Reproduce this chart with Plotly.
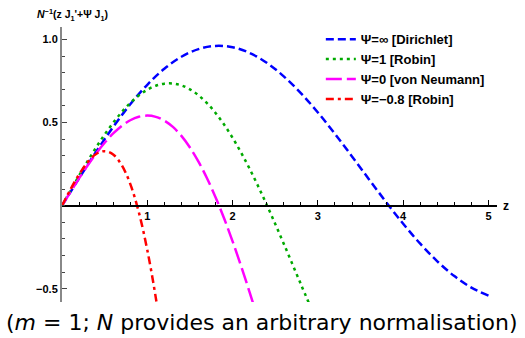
import plotly.graph_objects as go

# ---- data ----
z_blue = [0, 0.2, 0.4, 0.6, 0.8, 1.0, 1.2, 1.4, 1.6, 1.8, 2.0, 2.2, 2.4, 2.6, 2.8, 3.0,
          3.2, 3.4, 3.6, 3.8, 4.0, 4.2, 4.4, 4.6, 4.8, 5.0]
y_blue = [0, 0.1645, 0.3240, 0.4739, 0.6096, 0.7274, 0.8236, 0.8957, 0.9420, 0.9612,
          0.9532, 0.9190, 0.8598, 0.7782, 0.6772, 0.5605, 0.4319, 0.2962, 0.1579, 0.0212,
          -0.1091, -0.2291, -0.3352, -0.4241, -0.4934, -0.5415]

z_green = [0, 0.1, 0.2, 0.3, 0.4, 0.5, 0.6, 0.7, 0.8, 0.9, 1.0, 1.1, 1.2, 1.3, 1.4, 1.5,
           1.6, 1.7, 1.8, 1.9, 2.0, 2.1, 2.2, 2.3, 2.4, 2.5, 2.6, 2.7, 2.8, 2.9]
y_green = [0, 0.0909, 0.1805, 0.2673, 0.3502, 0.4278, 0.4988, 0.5623, 0.6172, 0.6625,
           0.6975, 0.7216, 0.7341, 0.7349, 0.7235, 0.6998, 0.6642, 0.6168, 0.5579, 0.4881,
           0.4082, 0.3189, 0.2214, 0.1164, 0.0055, -0.1103, -0.2294, -0.3505, -0.4722, -0.5930]

z_mag = [0, 0.1, 0.2, 0.3, 0.4, 0.5, 0.6, 0.7, 0.8, 0.9, 1.0, 1.1, 1.2, 1.3, 1.4, 1.5,
         1.6, 1.7, 1.8, 1.9, 2.0, 2.1, 2.2, 2.3]
y_mag = [0, 0.0831, 0.1642, 0.2416, 0.3136, 0.3783, 0.4342, 0.4797, 0.5137, 0.5348,
         0.5418, 0.5344, 0.5117, 0.4736, 0.4196, 0.3497, 0.2646, 0.1647, 0.0508, -0.0763,
         -0.2148, -0.3641, -0.5219, -0.6871]

z_red = [0, 0.1, 0.2, 0.3, 0.4, 0.5, 0.6, 0.7, 0.8, 0.9, 1.0, 1.1, 1.2]
y_red = [0, 0.0983, 0.1871, 0.2608, 0.3105, 0.3278, 0.3083, 0.2440, 0.1307, -0.0383,
         -0.2671, -0.5550, -0.9071]

names = ["Ψ=∞ [Dirichlet]", "Ψ=1 [Robin]", "Ψ=0 [von Neumann]", "Ψ=−0.8 [Robin]"]
x_ticks = [1, 2, 3, 4, 5]
x_ticktext = ["1", "2", "3", "4", "5"]
y_ticks = [-0.5, 0.5, 1.0]
y_ticktext = ["−0.5", "0.5", "1.0"]

fig = go.Figure()
series = [
    (z_blue, y_blue, "#0000FF", "8px,4px"),
    (z_green, y_green, "#00AA00", "3px,4px"),
    (z_mag, y_mag, "#FF00FF", "16px,5px"),
    (z_red, y_red, "#FF0000", "8px,4px,3px,4px"),
]
for (xs, ys, col, dash), nm in zip(series, names):
    fig.add_trace(go.Scatter(x=xs, y=ys, mode="lines", name="<b>" + nm + "</b>",
                             line=dict(color=col, width=2.5, dash=dash, shape="spline")))

y0, y1 = -0.58, 1.075
fig.update_layout(
    width=525, height=338,
    margin=dict(l=62, r=27.5, t=27, b=36, autoexpand=False),
    plot_bgcolor="white", paper_bgcolor="white",
    font=dict(family="Liberation Sans, Arial, sans-serif", color="black"),
    showlegend=True,
    legend=dict(x=0.595, y=1.01, xanchor="left", yanchor="top",
                font=dict(size=13, color="black", family="Liberation Sans, Arial, sans-serif"),
                bgcolor="rgba(0,0,0,0)", tracegroupgap=0, itemwidth=30),
    xaxis=dict(range=[0, 5.1], showgrid=False, zeroline=False, automargin=False,
               anchor="free", position=(0 - y0) / (y1 - y0),
               showline=True, linecolor="black", linewidth=1.5,
               tickvals=x_ticks, ticktext=["<b>" + t + "</b>" for t in x_ticktext],
               ticks="inside", ticklen=5, tickwidth=1, tickcolor="black",
               tickfont=dict(size=11),
               minor=dict(dtick=0.2, tick0=0, ticks="inside", ticklen=3, tickcolor="black", tickwidth=1)),
    yaxis=dict(range=[y0, y1], showgrid=False, zeroline=False, automargin=False,
               showline=True, linecolor="#888888", linewidth=2,
               tickvals=y_ticks, ticktext=["<b>" + t + "</b>" for t in y_ticktext],
               ticks="inside", ticklen=5,
               tickwidth=1, tickcolor="#444444",
               tickfont=dict(size=11),
               minor=dict(dtick=0.1, tick0=0, ticks="inside", ticklen=3, tickcolor="#444444", tickwidth=1)),
)

fig.add_annotation(text="<b><i>N</i><sup>−1</sup>(z J<sub>1</sub>'+Ψ J<sub>1</sub>)</b>",
                   xref="paper", yref="paper", x=-0.0964, y=1.045, xanchor="left", yanchor="middle",
                   xshift=15, showarrow=False, font=dict(size=10.5, color="black"))
fig.add_annotation(text="<b>z</b>", xref="x", yref="y", x=5.1, y=0, xanchor="left", yanchor="middle",
                   xshift=4, showarrow=False, font=dict(size=12, color="black"))
fig.add_annotation(text="(<i>m</i> = 1; <i>N</i> provides an arbitrary normalisation)",
                   xref="paper", yref="paper", x=0.459, y=-0.073, xanchor="center", yanchor="middle",
                   showarrow=False, font=dict(size=22, family="DejaVu Sans", color="black"))

fig.write_html("out.html", config={"displayModeBar": False},
               post_script="document.body.style.margin='0';document.body.style.padding='0';")
